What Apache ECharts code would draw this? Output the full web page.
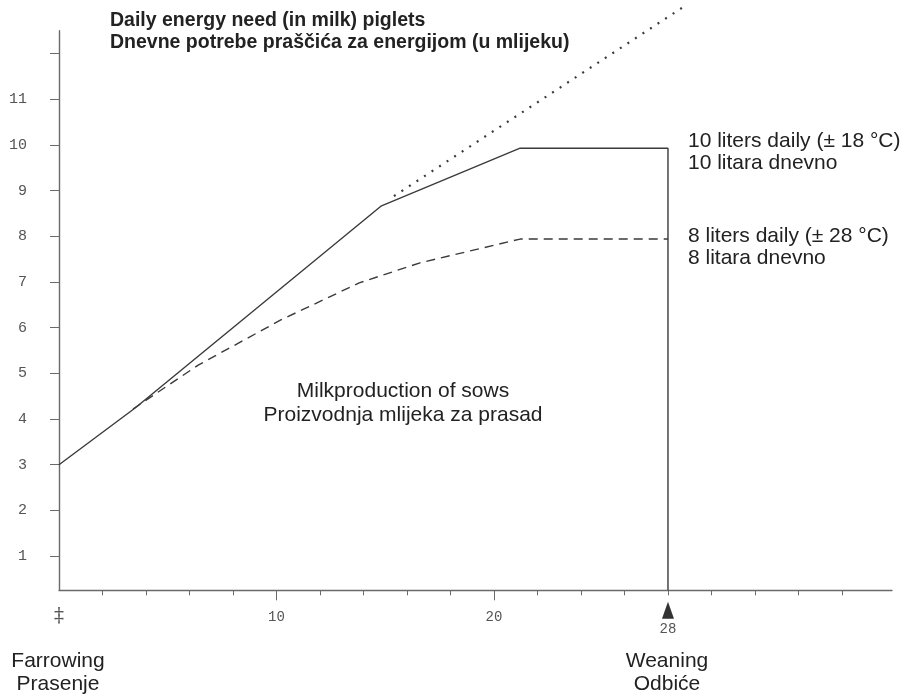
<!DOCTYPE html>
<html><head><meta charset="utf-8">
<script src="https://cdn.jsdelivr.net/npm/echarts@6/dist/echarts.min.js"></script>
<style>html,body{margin:0;padding:0;background:#fff}#c{width:906px;height:696px}</style>
</head><body><div id="c"></div>
<script>
// ---- data ----
const yTickValues = [1,2,3,4,5,6,7,8,9,10,11,12];
const yLabelValues = [1,2,3,4,5,6,7,8,9,10,11];
const xTickValues = [2,4,6,8,10,12,14,16,18,20,22,24,26,28,30,32,34,36];
const xMajorTicks = [10,20];
const xLabelValues = [0,10,20,28];
const Y_MIN = 0.25, Y_MAX = 12.5, X_MAX = 38.3;
const weaningDay = 28;
// 10 liters daily (solid) - ends with vertical drop at weaning
const days10 = [0, 3.5, 14.8, 21.2, 28, 28];
const milk10 = [3.0, 4.24, 8.66, 9.93, 9.93, 0.25];
// 8 liters daily (dashed)
const days8 = [3.4, 6.4, 10.2, 13.8, 16.6, 21.2, 28];
const milk8 = [4.22, 5.18, 6.17, 6.98, 7.42, 7.94, 7.94];
// daily energy need piglets (dotted)
const daysNeed = [15.4, 28.7];
const need = [8.88, 13.02];

const zip = (a, b) => a.map((v, i) => [v, b[i]]);
const lineCol = '#3a3a3a';
const axisCol = '#6a6a6a';
const txtCol = '#222';
const sans = '"Liberation Sans", Arial, sans-serif';
const mono = '"Liberation Mono", monospace';

const chart = echarts.init(document.getElementById('c'), null, {renderer: 'canvas'});
chart.setOption({
  animation: false,
  backgroundColor: '#fff',
  grid: {left: 59, right: 14, top: 30.8, bottom: 105.7, outerBoundsMode: 'none'},
  xAxis: [{
    type: 'value', min: 0, max: X_MAX,
    axisLine: {lineStyle: {color: axisCol, width: 1.4}},
    axisTick: {customValues: xTickValues, length: 5, lineStyle: {color: axisCol}},
    splitLine: {show: false},
    axisLabel: {
      customValues: xLabelValues, margin: 20, color: '#555', fontFamily: mono, fontSize: 14,
      formatter: v => v === 0 ? '{m|‡}' : (v === weaningDay ? '{w|' + v + '}' : String(v)),
      rich: {
        m: {fontFamily: '"DejaVu Serif", serif', fontSize: 20, color: '#555', padding: [-4, 0, 0, 0]},
        w: {fontFamily: mono, fontSize: 14, color: '#555', padding: [12, 0, 0, 0]}
      }
    }
  }, {
    type: 'value', min: 0, max: X_MAX, position: 'bottom',
    axisLine: {show: false},
    axisTick: {customValues: xMajorTicks, length: 10, lineStyle: {color: axisCol}},
    axisLabel: {show: false}, splitLine: {show: false}
  }],
  yAxis: {
    type: 'value', min: Y_MIN, max: Y_MAX,
    axisLine: {show: true, lineStyle: {color: axisCol, width: 1.4}},
    axisTick: {show: true, customValues: yTickValues, length: 9, lineStyle: {color: axisCol}},
    splitLine: {show: false},
    axisLabel: {customValues: yLabelValues, margin: 32, color: '#555', fontFamily: mono, fontSize: 15}
  },
  series: [{
    type: 'line', name: '10 liters', data: zip(days10, milk10), symbol: 'none',
    lineStyle: {color: lineCol, width: 1.4},
    markPoint: {
      symbol: 'triangle', symbolSize: [12, 17], symbolOffset: [0, 20],
      itemStyle: {color: '#333'}, label: {show: false},
      data: [{coord: [weaningDay, Y_MIN]}]
    }
  }, {
    type: 'line', name: '8 liters', data: zip(days8, milk8), symbol: 'none',
    lineStyle: {color: lineCol, width: 1.4, type: [9, 6]}
  }, {
    type: 'line', name: 'need', data: zip(daysNeed, need), symbol: 'none', clip: false,
    lineStyle: {color: lineCol, width: 2.2, type: [2, 7]}
  }],
  graphic: [
    {type: 'text', x: 110, y: 10, style: {text: 'Daily energy need (in milk) piglets\nDnevne potrebe praščića za energijom (u mlijeku)', font: 'bold 19.5px ' + sans, fill: txtCol, lineHeight: 22, verticalAlign: 'top'}},
    {type: 'text', x: 688, y: 130, style: {text: '10 liters daily (± 18 °C)\n10 litara dnevno', font: '21px ' + sans, fill: txtCol, lineHeight: 22, verticalAlign: 'top'}},
    {type: 'text', x: 688, y: 225, style: {text: '8 liters daily (± 28 °C)\n8 litara dnevno', font: '21px ' + sans, fill: txtCol, lineHeight: 22, verticalAlign: 'top'}},
    {type: 'text', x: 403, y: 379, style: {text: 'Milkproduction of sows\nProizvodnja mlijeka za prasad', font: '21px ' + sans, fill: txtCol, lineHeight: 24, align: 'center', verticalAlign: 'top'}},
    {type: 'text', x: 58, y: 650, style: {text: 'Farrowing\nPrasenje', font: '21px ' + sans, fill: txtCol, lineHeight: 23, align: 'center', verticalAlign: 'top'}},
    {type: 'text', x: 667, y: 650, style: {text: 'Weaning\nOdbiće', font: '21px ' + sans, fill: txtCol, lineHeight: 23, align: 'center', verticalAlign: 'top'}}
  ]
});
</script>
</body></html>
